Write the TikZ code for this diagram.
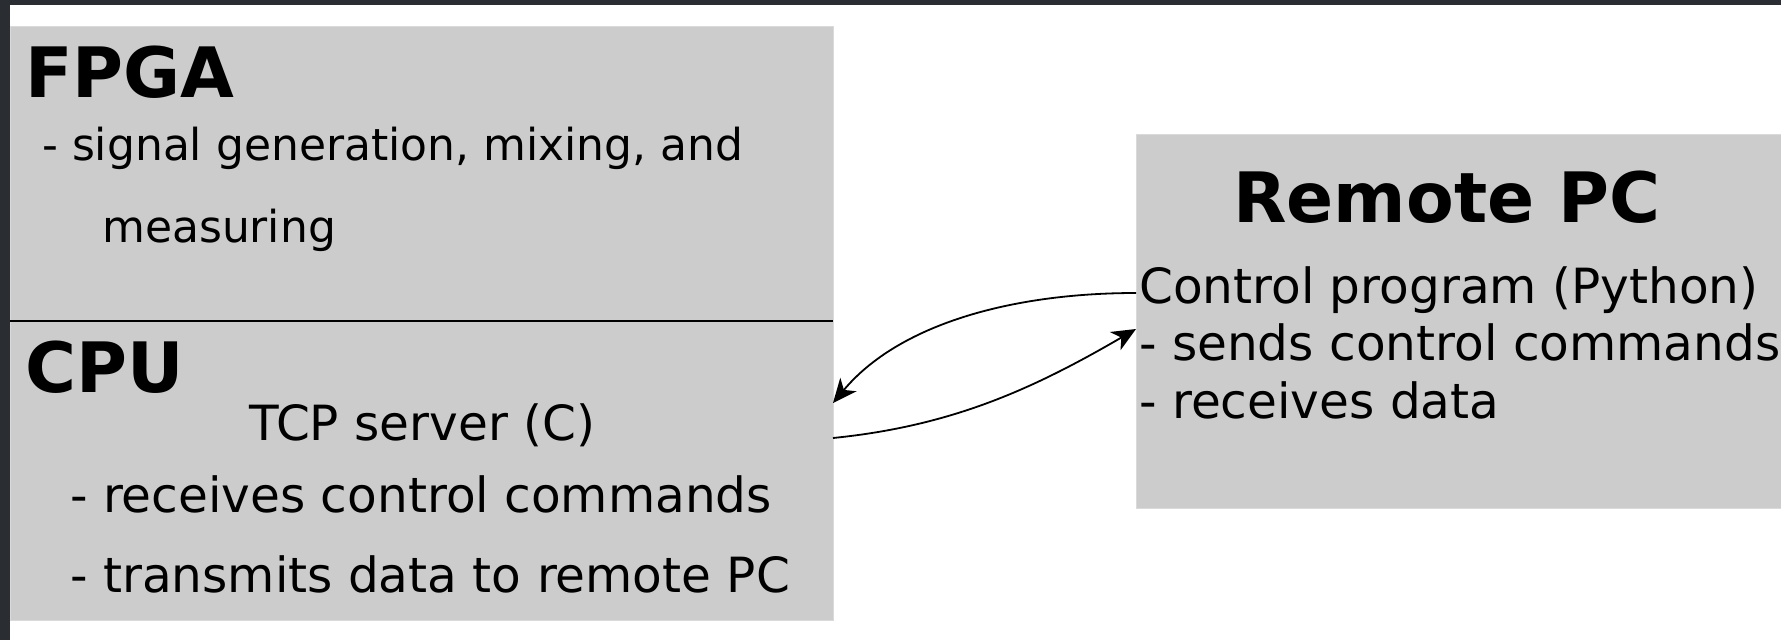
\documentclass[tikz,border=0pt]{standalone}
\usepackage{fontspec}
\setmainfont{DejaVu Sans}
\usetikzlibrary{arrows.meta,calc}

\definecolor{boxgray}{HTML}{CCCCCC}
\definecolor{boxedge}{HTML}{DADADA}
\definecolor{frame}{HTML}{2A2D31}

\tikzset{
  panel/.style={draw=boxedge, line width=1pt, fill=boxgray, inner sep=0pt, outer sep=0pt},
  heading/.style={anchor=base west, inner sep=0pt, font=\fontsize{69.5}{80}\selectfont\bfseries},
  body/.style={anchor=base west, inner sep=0pt, font=\fontsize{48.5}{58}\selectfont},
  smallbody/.style={anchor=base west, inner sep=0pt, font=\fontsize{44}{53}\selectfont},
  link/.style={line width=1.8pt, -{Stealth[length=24pt, width=21pt, inset=7pt]}},
}

\begin{document}
\begin{tikzpicture}[x=1pt, y=-1pt]
  \useasboundingbox (0,0) rectangle (1781,640);
  \fill[white] (0,0) rectangle (1781,640);

  % dark frame strips along the top and the left
  \fill[frame] (0,0) rectangle (1781,4.5);
  \fill[frame] (0,0) rectangle (10,640);

  % FPGA / CPU block and the remote PC block
  \node[panel, minimum width=823pt, minimum height=295pt] (fpga) at (421.5,173.5) {};
  \node[panel, minimum width=823pt, minimum height=299pt] (cpu)  at (421.5,470.5) {};
  \node[panel, minimum width=645pt, minimum height=374pt] (remote) at (1458.5,321) {};
  \draw[line width=2pt] (fpga.south west) -- (fpga.south east);

  % FPGA texts
  \node[heading] (fpgatitle) at (25,97) {FPGA};
  \node[smallbody] (fpgaA) at (42,160) {- signal generation, mixing, and};
  \node[smallbody] (fpgaB) at (102,242) {measuring};

  % CPU texts
  \node[heading] (cputitle) at (25,392) {CPU};
  \node[body] (tcp) at (249,440) {TCP server (C)};
  \node[body] (cpuA) at (70,512) {- receives control commands};
  \node[body] (cpuB) at (70,592) {- transmits data to remote PC};

  % remote PC texts
  \node[heading] (remotetitle) at (1233,222) {Remote PC};
  \node[body] (ctrl) at (1139,303) {Control program (Python)};
  \node[body] (remA) at (1139,360) {- sends control commands};
  \node[body] (remB) at (1139,418) {- receives data};

  % connection end points on the box edges
  \coordinate (rOut) at ($(remote.west)+(0,-28)$);
  \coordinate (rIn)  at ($(remote.west)+(0,8)$);
  \coordinate (cIn)  at ($(cpu.east)+(0,-67.5)$);
  \coordinate (cOut) at ($(cpu.east)+(0,-32.5)$);

  % commands from the remote PC, data back to it
  \draw[link] (rOut) .. controls (1010,293) and (898,325) .. (cIn);
  \draw[link] (cOut) .. controls (952,426) and (1033,389) .. (rIn);
\end{tikzpicture}
\end{document}
